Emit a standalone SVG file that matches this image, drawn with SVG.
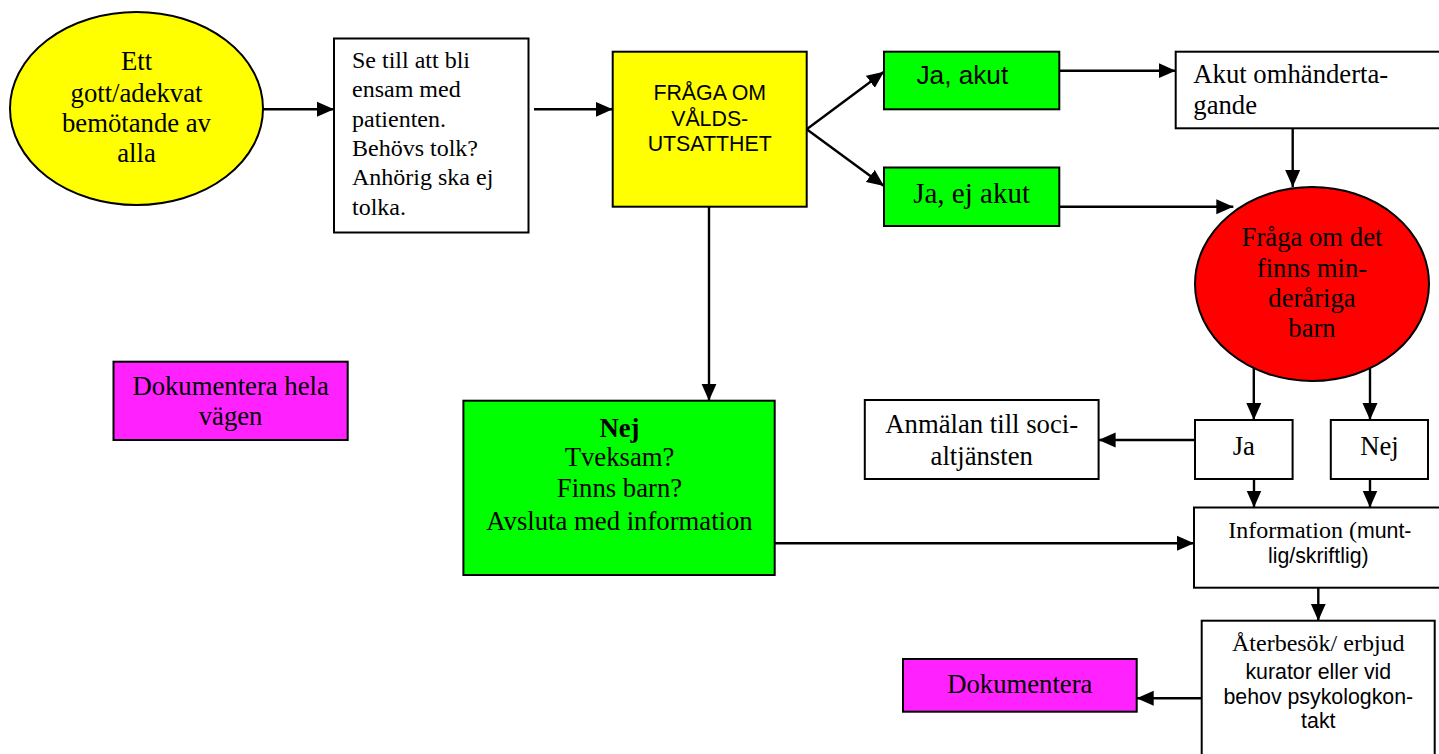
<svg xmlns="http://www.w3.org/2000/svg" width="1439" height="754" viewBox="0 0 1439 754">
<defs>
<marker id="arr" markerUnits="userSpaceOnUse" markerWidth="18" markerHeight="16" viewBox="0 0 18 16" refX="17" refY="8" orient="auto">
<path d="M0,0.5 L17,8 L0,15.5 Z" fill="#000"/>
</marker>
</defs>
<style>
.box{stroke:#000;stroke-width:2}
.w{fill:#fff}
.y{fill:#ffff00}
.g{fill:#00ff00}
.r{fill:#ff0000}
.m{fill:#ff22ff}
.tr{font-family:"Liberation Serif","Times New Roman",serif;fill:#000}
.ar{font-family:"Liberation Sans",Arial,sans-serif;fill:#000}
.c{text-anchor:middle}
.con line{stroke:#000;stroke-width:2.4;marker-end:url(#arr)}
</style>
<rect width="1439" height="754" fill="#fff"/>

<g id="start">
<ellipse class="box y" cx="136.5" cy="108.5" rx="126.5" ry="96.5"/>
<text class="tr c" font-size="26.7" x="136.5"><tspan x="136.5" y="70">Ett</tspan><tspan x="136.5" y="101.5">gott/adekvat</tspan><tspan x="136.5" y="131.5">bemötande av</tspan><tspan x="136.5" y="161.5">alla</tspan></text>
</g>

<g id="ensam">
<rect class="box w" x="334" y="38.5" width="194.5" height="194"/>
<text class="tr" font-size="24"><tspan x="352" y="68">Se till att bli</tspan><tspan x="352" y="97">ensam med</tspan><tspan x="352" y="126.5">patienten.</tspan><tspan x="352" y="155.5">Behövs tolk?</tspan><tspan x="352" y="185">Anhörig ska ej</tspan><tspan x="352" y="215">tolka.</tspan></text>
</g>

<g id="fraga">
<rect class="box y" x="612.7" y="51.7" width="194" height="155"/>
<text class="ar c" font-size="21.33"><tspan x="709.7" y="100">FRÅGA OM</tspan><tspan x="709.7" y="125.5">VÅLDS-</tspan><tspan x="709.7" y="150.5">UTSATTHET</tspan></text>
</g>

<g id="ja-akut">
<rect class="box g" x="884" y="51.7" width="175.3" height="57.6"/>
<text class="ar" font-size="26.2" x="916.5" y="84">Ja, akut</text>
</g>

<g id="ja-ej-akut">
<rect class="box g" x="884" y="167.5" width="175.3" height="58.5"/>
<text class="tr c" font-size="29" x="971.6" y="203.3">Ja, ej akut</text>
</g>

<g id="akut-omh">
<rect class="box w" x="1175.7" y="51.7" width="275" height="76.6"/>
<text class="tr" font-size="26.7"><tspan x="1193.3" y="83.3">Akut omhänderta-</tspan><tspan x="1193.3" y="114">gande</tspan></text>
</g>

<g id="barn">
<ellipse class="box r" cx="1312" cy="284" rx="117" ry="97"/>
<text class="tr c" font-size="26.7"><tspan x="1312" y="246">Fråga om det</tspan><tspan x="1312" y="276.5">finns min-</tspan><tspan x="1312" y="306.5">deråriga</tspan><tspan x="1312" y="337">barn</tspan></text>
</g>

<g id="nej-green">
<rect class="box g" x="463.4" y="400.7" width="311.3" height="174.3"/>
<text class="tr c" font-size="26.7"><tspan x="619.5" y="436.7" font-weight="bold">Nej</tspan><tspan x="619.5" y="466">Tveksam?</tspan><tspan x="619.5" y="496.7">Finns barn?</tspan><tspan x="619.5" y="530">Avsluta med information</tspan></text>
</g>

<g id="dok-hela">
<rect class="box m" x="113.5" y="361.7" width="234.2" height="78.3"/>
<text class="tr c" font-size="26.7"><tspan x="230.6" y="395">Dokumentera hela</tspan><tspan x="230.6" y="425">vägen</tspan></text>
</g>

<g id="anmalan">
<rect class="box w" x="864.8" y="400" width="233.8" height="79"/>
<text class="tr c" font-size="26.7"><tspan x="981.7" y="433">Anmälan till soci-</tspan><tspan x="981.7" y="465">altjänsten</tspan></text>
</g>

<g id="ja">
<rect class="box w" x="1195" y="420" width="97.6" height="59"/>
<text class="tr c" font-size="26.7" x="1243.8" y="454.5">Ja</text>
</g>

<g id="nej">
<rect class="box w" x="1330.8" y="420" width="97.2" height="59"/>
<text class="tr c" font-size="26.7" x="1379.4" y="454.5">Nej</text>
</g>

<g id="information">
<rect class="box w" x="1194" y="507.5" width="260" height="80.2"/>
<text font-size="24" y="538.3"><tspan class="tr" x="1228.3" y="538.3">Information (</tspan><tspan class="ar" font-size="21.33">munt-</tspan></text>
<text class="ar c" font-size="21.33" x="1318.3" y="563.3">lig/skriftlig)</text>
</g>

<g id="aterbesok">
<rect class="box w" x="1201.7" y="620.7" width="233" height="150"/>
<text class="tr c" font-size="24" x="1318.3" y="650.7">Återbesök/ erbjud</text>
<text class="ar c" font-size="21.33"><tspan x="1318.3" y="679">kurator eller vid</tspan><tspan x="1318.3" y="704">behov psykologkon-</tspan><tspan x="1318.3" y="728.3">takt</tspan></text>
</g>

<g id="dokumentera">
<rect class="box m" x="903" y="659" width="233.7" height="52.7"/>
<text class="tr c" font-size="26.7" x="1019.8" y="693.3">Dokumentera</text>
</g>

<g id="connectors" class="con">
<line x1="263" y1="109.3" x2="334" y2="109.3"/>
<line x1="534" y1="109.3" x2="612.7" y2="109.3"/>
<line x1="806.7" y1="129.3" x2="884" y2="71.7"/>
<line x1="806.7" y1="129.3" x2="884" y2="186"/>
<line x1="1059.3" y1="70.7" x2="1175.7" y2="70.7"/>
<line x1="1292.7" y1="128.3" x2="1292.7" y2="187"/>
<line x1="1059.3" y1="206.7" x2="1233.3" y2="206.7"/>
<line x1="709" y1="206.7" x2="709" y2="400.7"/>
<line x1="1253.8" y1="368" x2="1253.8" y2="420"/>
<line x1="1370" y1="368" x2="1370" y2="420"/>
<line x1="1195" y1="440" x2="1098.6" y2="440"/>
<line x1="1254" y1="479" x2="1254" y2="507.5"/>
<line x1="1370" y1="479" x2="1370" y2="507.5"/>
<line x1="774.7" y1="543.3" x2="1194" y2="543.3"/>
<line x1="1318.3" y1="587.7" x2="1318.3" y2="620.7"/>
<line x1="1201.7" y1="698.3" x2="1136.7" y2="698.3"/>
</g>
</svg>
